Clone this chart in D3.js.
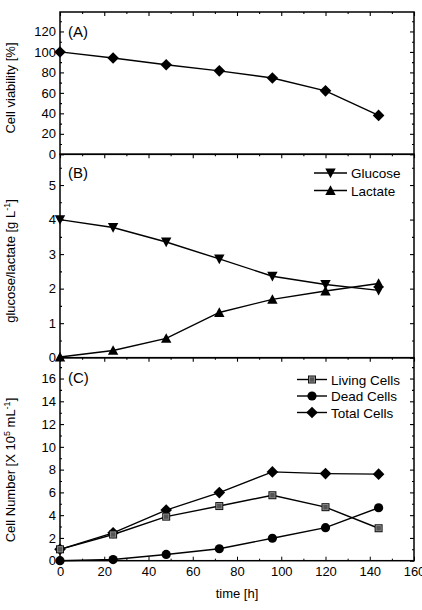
<!DOCTYPE html>
<html>
  <head>
    <meta charset="utf-8" />
    <title>Cell culture time course</title>
    <style>
      body { margin: 0; background: #fff; }
      svg text { font-family: "Liberation Sans", Arial, sans-serif; fill: #000; }
    </style>
  </head>
  <body>
    <svg id="chart" width="422" height="610"></svg>
    <script src="https://d3js.org/d3.v7.min.js"></script>
    <script>
      // data
      const times = [0, 24, 48, 72, 96, 120, 144];
      const viability = [100, 94, 87.5, 81.5, 74.5, 62, 38];
      const glucose = [4.0, 3.77, 3.35, 2.86, 2.36, 2.12, 1.95];
      const lactate = [0.02, 0.21, 0.56, 1.31, 1.69, 1.93, 2.15];
      const living = [1.0, 2.3, 3.87, 4.8, 5.75, 4.7, 2.85];
      const dead = [0.0, 0.1, 0.55, 1.05, 1.97, 2.9, 4.65];
      const total = [1.0, 2.45, 4.45, 5.98, 7.8, 7.65, 7.6];

      const xTicks = [0, 20, 40, 60, 80, 100, 120, 140, 160];
      const ticksA = [0, 20, 40, 60, 80, 100, 120];
      const ticksB = [0, 1, 2, 3, 4, 5];
      const ticksC = [0, 2, 4, 6, 8, 10, 12, 14, 16];

      const left = 60, right = 414;
      const svg = d3.select("#chart");

      const x = d3.scaleLinear().domain([0, 160]).range([left, right]);

      // marker shapes, centred on the point
      const shapes = {
        diamond: (r) => `M0,${-r}L${r},0L0,${r}L${-r},0Z`,
        up: (r) => `M0,${-r}L${r},${r * 0.85}L${-r},${r * 0.85}Z`,
        down: (r) => `M0,${r}L${r},${-r * 0.85}L${-r},${-r * 0.85}Z`,
        circle: (r) => d3.arc()({ innerRadius: 0, outerRadius: r, startAngle: 0, endAngle: 2 * Math.PI }),
      };
      const sizes = { diamond: 5.8, up: 5.2, down: 5.2, circle: 4.6 };

      function drawMarker(g, shape, cx, cy) {
        if (shape == "square") {
          g.append("rect")
            .attr("x", cx - 4).attr("y", cy - 4)
            .attr("width", 8).attr("height", 8)
            .attr("fill", "#111");
          g.append("rect")
            .attr("x", cx - 2.6).attr("y", cy - 2.6)
            .attr("width", 5.2).attr("height", 5.2)
            .attr("fill", "#555")
            .attr("stroke", "#999")
            .attr("stroke-width", 0.8);
          return;
        }
        g.append("path")
          .attr("d", shapes[shape](sizes[shape]))
          .attr("transform", "translate(" + cx + "," + cy + ")")
          .attr("fill", "#000");
      }

      function drawSeries(g, y, values, shape) {
        const pts = times.map((t, i) => [x(t), y(values[i])]);
        g.append("path")
          .attr("d", d3.line()(pts))
          .attr("fill", "none")
          .attr("stroke", "#000")
          .attr("stroke-width", 1.4);
        pts.forEach((p) => drawMarker(g, shape, p[0], p[1]));
      }

      function drawPanel(top, bottom, ymax, majors, minorStep, label, labelY) {
        const y = d3.scaleLinear().domain([0, ymax]).range([bottom, top]);
        const g = svg.append("g");
        const minors = d3.range(0, ymax, minorStep).filter((v) => !majors.includes(v));

        // left axis, ticks inward
        g.append("g")
          .attr("transform", "translate(" + left + ",0)")
          .call(d3.axisLeft(y).tickValues(minors).tickSize(-2).tickFormat(""));
        g.append("g")
          .attr("transform", "translate(" + left + ",0)")
          .call(d3.axisLeft(y).tickValues(majors).tickSize(-4).tickPadding(4).tickFormat(d3.format("")))
          .call((a) => a.selectAll("text").style("font-size", "13px"));

        // right axis, ticks inward
        g.append("g")
          .attr("transform", "translate(" + right + ",0)")
          .call(d3.axisLeft(y).tickValues(minors).tickSize(2).tickFormat(""));
        g.append("g")
          .attr("transform", "translate(" + right + ",0)")
          .call(d3.axisLeft(y).tickValues(majors).tickSize(4).tickFormat(""));

        // top ticks, inward
        g.append("g")
          .attr("transform", "translate(0," + top + ")")
          .call(d3.axisBottom(x).tickValues(d3.range(10, 160, 20)).tickSize(2).tickFormat(""));
        g.append("g")
          .attr("transform", "translate(0," + top + ")")
          .call(d3.axisBottom(x).tickValues(xTicks).tickSize(4).tickFormat(""));

        g.selectAll(".domain").remove();
        g.selectAll(".tick line").attr("stroke-width", 1.1);

        g.append("rect")
          .attr("x", left).attr("y", top)
          .attr("width", right - left).attr("height", bottom - top)
          .attr("fill", "none")
          .attr("stroke", "#000")
          .attr("stroke-width", 1.5);

        g.append("text")
          .attr("x", 68).attr("y", labelY)
          .style("font-size", "15px")
          .text(label);

        return { g: g, y: y };
      }

      // (A) viability
      const pA = drawPanel(12, 154.3, 139, ticksA, 10, "(A)", 37);
      drawSeries(pA.g, pA.y, viability, "diamond");

      // (B) glucose / lactate
      const pB = drawPanel(154.3, 357.7, 5.89, ticksB, 0.5, "(B)", 178);
      drawSeries(pB.g, pB.y, glucose, "down");
      drawSeries(pB.g, pB.y, lactate, "up");

      // (C) cell numbers
      const pC = drawPanel(357.7, 560.7, 17.83, ticksC, 1, "(C)", 383);
      drawSeries(pC.g, pC.y, total, "diamond");
      drawSeries(pC.g, pC.y, living, "square");
      drawSeries(pC.g, pC.y, dead, "circle");

      // bottom x axis of panel C
      svg.append("g")
        .attr("transform", "translate(0,560.7)")
        .call(d3.axisBottom(x).tickValues(d3.range(10, 160, 20)).tickSize(-2).tickFormat(""))
        .call((a) => a.select(".domain").remove());
      svg.append("g")
        .attr("transform", "translate(0,560.7)")
        .call(d3.axisBottom(x).tickValues(xTicks).tickSize(-4).tickPadding(6))
        .call((a) => a.select(".domain").remove())
        .call((a) => a.selectAll("text").style("font-size", "13px"));

      // legends
      function legend(items, x0, x1, tx, ys) {
        items.forEach((it, i) => {
          const lg = svg.append("g");
          lg.append("line")
            .attr("x1", x0).attr("x2", x1)
            .attr("y1", ys[i]).attr("y2", ys[i])
            .attr("stroke", "#000").attr("stroke-width", 1.4);
          drawMarker(lg, it.shape, (x0 + x1) / 2, ys[i]);
          lg.append("text")
            .attr("x", tx).attr("y", ys[i] + 5)
            .style("font-size", "13.5px")
            .text(it.name);
        });
      }
      legend([{ name: "Glucose", shape: "down" }, { name: "Lactate", shape: "up" }], 314, 347, 351, [173, 190.5]);
      legend(
        [{ name: "Living Cells", shape: "square" }, { name: "Dead Cells", shape: "circle" }, { name: "Total Cells", shape: "diamond" }],
        297, 327, 331, [379.5, 396, 412.5]
      );

      // axis titles
      svg.append("text")
        .attr("transform", "translate(15,88) rotate(-90)")
        .attr("text-anchor", "middle")
        .style("font-size", "13px")
        .text("Cell viability [%]");

      const tB = svg.append("text")
        .attr("transform", "translate(15,261) rotate(-90)")
        .attr("text-anchor", "middle")
        .style("font-size", "13px");
      tB.append("tspan").text("glucose/lactate [g L");
      tB.append("tspan").attr("dy", -5).style("font-size", "9px").text("-1");
      tB.append("tspan").attr("dy", 5).text("]");

      const tC = svg.append("text")
        .attr("transform", "translate(15,470) rotate(-90)")
        .attr("text-anchor", "middle")
        .style("font-size", "13px");
      tC.append("tspan").text("Cell Number [X 10");
      tC.append("tspan").attr("dy", -5).style("font-size", "9px").text("5");
      tC.append("tspan").attr("dy", 5).text(" mL");
      tC.append("tspan").attr("dy", -5).style("font-size", "9px").text("-1");
      tC.append("tspan").attr("dy", 5).text("]");

      svg.append("text")
        .attr("x", 237).attr("y", 598)
        .attr("text-anchor", "middle")
        .style("font-size", "13px")
        .text("time [h]");
    </script>
  </body>
</html>
